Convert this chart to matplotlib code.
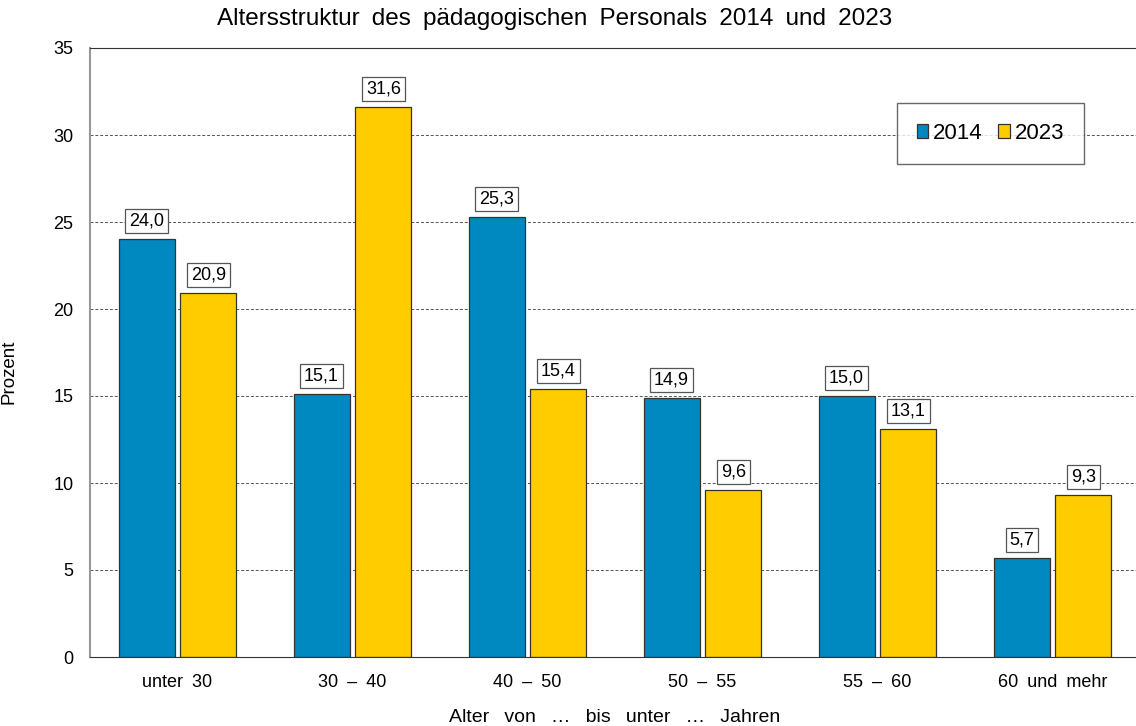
import numpy as np
import matplotlib.pyplot as plt

plt.rcParams['font.family'] = ['Liberation Sans', 'DejaVu Sans']

EN = '\u2002'

categories = ["unter 30", "30 – 40", "40 – 50", "50 – 55", "55 – 60", "60 und mehr"]
werte_2014 = [24.0, 15.1, 25.3, 14.9, 15.0, 5.7]
werte_2023 = [20.9, 31.6, 15.4, 9.6, 13.1, 9.3]
y_ticks = [0, 5, 10, 15, 20, 25, 30, 35]
titel = "Altersstruktur des pädagogischen Personals 2014 und 2023"
x_titel = "Alter von … bis unter … Jahren"
y_titel = "Prozent"

fig = plt.figure(figsize=(11.36, 7.26), dpi=100)
ax = fig.add_axes([90/1136, 69/726, 1050/1136, 609/726])

x = np.arange(len(categories))
w = 0.32
off = 0.177
b1 = ax.bar(x - off, werte_2014, w, color='#0088C0', edgecolor='#333333', linewidth=0.9, label='2014', zorder=2)
b2 = ax.bar(x + off, werte_2023, w, color='#FFCC00', edgecolor='#333333', linewidth=0.9, label='2023', zorder=2)

# Wertelabels in Kaestchen ueber den Balken
for bars in (b1, b2):
    for r in bars:
        h = r.get_height()
        ax.annotate(f"{h:.1f}".replace('.', ','), (r.get_x() + r.get_width()/2, h),
                    xytext=(0, 13), textcoords='offset points', ha='center', va='center',
                    fontsize=13,
                    bbox=dict(boxstyle='square,pad=0.2', fc='white', ec='#555555', lw=0.9),
                    zorder=3)

ax.set_xlim(-0.5, 5.5)
ax.set_ylim(0, 35)
ax.set_yticks(y_ticks)
ax.set_xticks(x)
ax.set_xticklabels([c.replace(' ', EN) for c in categories])
ax.tick_params(length=0, labelsize=13)
ax.tick_params(axis='x', pad=12)
ax.tick_params(axis='y', pad=12)
ax.yaxis.grid(True, linestyle=(0, (3, 2)), color='#555555', linewidth=0.7, zorder=0)
ax.set_axisbelow(True)
ax.spines['right'].set_visible(False)
ax.spines['left'].set_color('#999999')
ax.spines['left'].set_linewidth(1.5)
ax.spines['top'].set_color('#333333')
ax.spines['bottom'].set_color('#333333')

ax.set_ylabel(y_titel, fontsize=13.5)
ax.yaxis.set_label_coords(-0.0686, 0.468)
ax.set_xlabel(x_titel.replace(' ', EN + ' '), fontsize=14, labelpad=13)
fig.text(555/1136, 1 - 19/726, titel.replace(' ', EN),
         ha='center', va='center', fontsize=17.5)

leg = ax.legend(loc='upper left', bbox_to_anchor=(807/1050, 1 - 55/609), ncol=2,
                fontsize=16, frameon=True, fancybox=False, edgecolor='#444444',
                handlelength=0.5, handleheight=0.55, handletextpad=0.23, columnspacing=0.7,
                borderpad=0.9, borderaxespad=0)
leg.get_frame().set_linewidth(1.0)

fig.savefig("out.png", dpi=100)
